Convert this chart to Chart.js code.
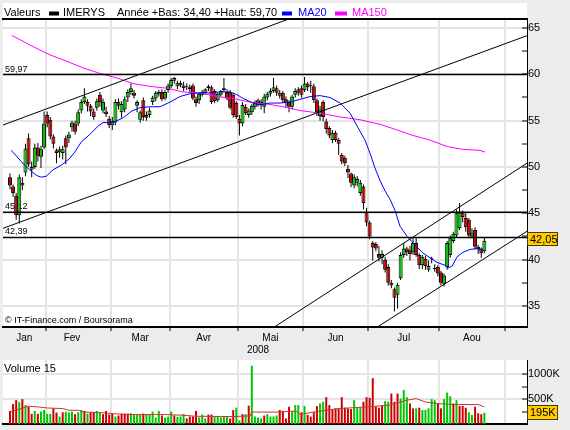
<!DOCTYPE html>
<html lang="fr">
<head>
<meta charset="utf-8">
<title>IMERYS</title>
<script src="https://cdn.jsdelivr.net/npm/chart.js@4.4.1/dist/chart.umd.min.js"></script>
<style>
  html, body { margin: 0; padding: 0; background: #ececec; }
  #cadre { position: relative; width: 570px; height: 430px; overflow: hidden; }
  canvas { position: absolute; left: 0; }
  #graphe_prix { top: 0; }
  #graphe_volume { top: 357px; }
</style>
</head>
<body>
<div id="cadre">
  <canvas id="graphe_prix" width="570" height="357"></canvas>
  <canvas id="graphe_volume" width="570" height="73"></canvas>
</div>
<script>
// textes
const valeur = 'IMERYS';
const resumeAnnee = 'Année +Bas: 34,40 +Haut: 59,70';
const credit = '© IT-Finance.com / Boursorama';
const titreVolume = 'Volume 15';
const etiquetteVolume = '195K';

// axe du temps : index de seance (0 = 16 janvier 2008)
const moisNoms = ['Jan', 'Fev', 'Mar', 'Avr', 'Mai', 'Jun', 'Jul', 'Aou'];
const moisPos = [4.6, 20, 42, 62.5, 84, 105, 127, 149];
const moisDebut = [11.5, 32.5, 51.5, 73.5, 94.5, 115.5, 138.5, 159.5];
const annee = ['2008'];
const anneePos = [80];

const ticksPrix = [35, 37.5, 40, 42.5, 45, 47.5, 50, 52.5, 55, 57.5, 60, 62.5, 65];
const ticksVol = [250, 500, 750, 1000];

// cours journaliers
const ouv = [48.9, 47.9, 46.9, 44.8, 48.3, 49.4, 53.1, 49.7, 50.0, 52.1, 51.1, 52.1,
  55.6, 55.1, 53.3, 51.8, 51.6, 51.5, 53.1, 53.1, 54.3, 54.7, 54.7, 56.1, 57.0, 57.0, 56.6, 56.0, 56.4, 57.8, 56.1, 56.0, 55.2,
  54.5, 54.8, 57.0, 55.9, 56.2, 57.5, 58.1, 58.0, 56.6, 55.1, 57.2, 55.6, 55.6, 57.0, 57.4, 57.9, 58.1, 57.4, 58.3,
  58.7, 59.3, 58.7, 59.1, 58.8, 58.7, 58.6, 58.8, 57.3, 57.2, 57.8, 58.0, 58.5, 58.6, 58.2, 57.2, 57.8, 58.3, 58.1, 58.1, 57.8, 56.9,
  55.2, 54.7, 56.5, 55.6, 55.9, 56.5, 56.9, 57.0, 56.5, 57.5, 57.9, 58.2, 58.5, 57.7, 58.0, 57.3, 57.0, 56.5, 57.8, 58.4, 58.5,
  58.3, 59.0, 58.8, 58.7, 57.2, 55.5, 57.0, 54.9, 54.2, 52.9, 53.7, 52.9, 51.3, 51.0, 49.8, 49.3, 48.0, 48.3, 47.2, 47.9, 45.0,
  44.0, 41.8, 41.7, 40.6, 40.2, 40.0, 39.2, 37.5, 36.8, 36.2, 38.0, 40.5, 41.2, 41.0, 40.8, 41.8, 40.5, 39.4, 40.1, 38.9, 40.1, 39.05, 39.2,
  38.6, 37.4, 39.2, 40.5, 42.0, 42.6, 43.4, 45.1, 44.5, 44.3, 42.5, 43.2, 41.4, 41.2, 40.9];
const haut = [49.3, 48.1, 47.2, 49.2, 48.9, 52.5, 53.6, 50.6, 52.5, 52.6, 52.3, 56.0,
  56.0, 55.4, 53.5, 52.0, 52.2, 52.3, 53.4, 53.8, 55.0, 55.0, 56.2, 57.3, 58.5, 57.3, 56.8, 56.3, 57.4, 58.1, 57.4, 56.5, 55.5,
  55.4, 57.3, 57.4, 57.1, 57.6, 58.4, 59.0, 58.3, 57.2, 56.1, 57.5, 56.0, 56.4, 57.7, 58.2, 58.3, 58.4, 58.3, 59.0,
  59.6, 59.7, 59.3, 59.3, 59.2, 59.0, 58.9, 59.0, 57.6, 58.0, 58.3, 58.5, 58.9, 58.8, 58.4, 58.0, 58.3, 59.6, 58.4, 58.3, 58.0, 57.1,
  55.6, 57.0, 56.8, 56.3, 56.8, 57.2, 57.4, 57.3, 57.9, 58.1, 58.5, 59.6, 58.8, 58.3, 58.2, 57.6, 57.2, 57.8, 58.5, 58.6, 58.8,
  59.7, 59.2, 59.3, 59.0, 57.4, 56.6, 57.2, 55.2, 54.4, 54.0, 53.9, 53.1, 51.5, 51.2, 50.2, 49.4, 49.2, 49.0, 48.6, 48.1, 45.6,
  44.2, 42.0, 41.9, 41.5, 41.0, 40.3, 39.5, 37.8, 37.0, 37.5, 40.8, 41.8, 41.4, 41.5, 42.3, 42.4, 40.7, 40.5, 40.4, 39.9, 40.3, 39.5, 39.4,
  38.8, 38.5, 42.0, 42.6, 43.0, 45.4, 46.1, 45.3, 45.0, 44.5, 43.4, 43.5, 41.6, 41.3, 42.4];
const bas = [47.6, 46.8, 44.3, 43.9, 47.5, 49.0, 50.0, 48.9, 49.8, 50.6, 49.9, 51.9,
  54.3, 53.0, 52.0, 50.4, 51.0, 50.8, 50.3, 52.6, 53.8, 53.5, 54.4, 55.8, 56.8, 56.0, 55.5, 55.1, 56.1, 56.5, 55.8, 55.4, 54.2,
  54.0, 54.5, 56.2, 55.3, 55.9, 57.0, 57.8, 57.4, 55.9, 54.8, 55.0, 55.0, 55.3, 56.7, 57.1, 57.6, 57.1, 57.2, 58.0,
  58.5, 59.0, 58.4, 58.6, 58.2, 58.3, 58.0, 57.2, 56.5, 56.8, 57.6, 57.8, 58.2, 56.8, 56.9, 57.0, 57.6, 58.1, 57.2, 56.2, 55.3, 55.2,
  53.4, 54.4, 55.6, 55.3, 55.6, 56.2, 56.5, 56.2, 55.8, 57.2, 57.6, 58.0, 57.7, 57.4, 56.9, 56.4, 55.9, 56.2, 57.5, 57.7, 57.5,
  58.1, 58.2, 58.0, 56.9, 55.5, 55.0, 54.9, 53.6, 53.1, 52.6, 52.7, 51.3, 50.3, 50.1, 48.8, 47.8, 47.7, 47.9, 46.9, 45.4, 43.6,
  42.2, 39.9, 40.9, 39.8, 39.5, 38.6, 37.2, 36.9, 34.4, 34.7, 37.8, 40.2, 40.4, 39.9, 40.5, 40.3, 39.0, 39.0, 38.9, 38.7, 39.6, 38.7, 38.2,
  37.2, 37.1, 38.9, 40.2, 41.8, 42.4, 43.2, 44.0, 43.0, 42.3, 42.3, 41.1, 40.6, 40.2, 40.7];
const clot = [48.0, 47.2, 44.8, 48.9, 48.0, 52.0, 50.3, 50.0, 52.1, 51.2, 51.9, 54.7,
  54.7, 53.3, 52.5, 51.5, 51.9, 51.9, 52.1, 53.5, 54.8, 53.8, 55.9, 57.0, 57.6, 56.6, 56.0, 55.4, 57.1, 57.0, 57.0, 55.7, 54.5,
  55.0, 57.0, 56.6, 56.8, 57.3, 58.1, 58.5, 57.7, 57.0, 55.9, 55.4, 55.3, 56.1, 57.5, 58.0, 58.1, 57.3, 58.1, 58.8,
  59.4, 59.6, 59.1, 58.8, 58.5, 58.6, 58.4, 57.4, 56.9, 57.9, 58.1, 58.4, 58.7, 57.0, 57.1, 57.9, 58.2, 58.5, 57.4, 56.4, 55.6, 55.4,
  54.7, 56.7, 55.8, 56.1, 56.6, 57.0, 57.2, 56.7, 57.6, 57.9, 58.2, 58.6, 58.0, 58.0, 57.2, 56.9, 56.5, 57.6, 58.2, 58.0, 57.8,
  59.0, 58.6, 58.7, 57.2, 55.9, 56.2, 55.4, 54.1, 53.4, 53.7, 52.9, 52.5, 50.6, 50.4, 49.4, 48.3, 48.9, 48.7, 48.3, 46.1, 44.0,
  42.5, 41.3, 41.2, 40.2, 40.6, 38.9, 37.5, 37.2, 35.9, 37.3, 40.5, 41.2, 40.8, 40.6, 41.8, 40.5, 39.4, 40.3, 39.3, 39.3, 40.05, 39.0, 38.5,
  37.5, 38.3, 41.8, 42.3, 42.8, 45.0, 45.1, 44.6, 43.5, 42.6, 42.9, 41.4, 41.1, 40.7, 42.05];

// volumes en milliers de titres, 1 = barre verte
const volume = [263, 402, 481, 442, 501, 382, 349, 204, 263, 204, 250, 283, 204, 204, 316, 230, 151, 236, 250, 236,
  250, 198, 236, 283, 263, 210, 236, 236, 263, 236, 198, 263, 191, 210, 151, 171, 210, 210, 210, 217,
  191, 191, 191, 210, 191, 191, 250, 131, 263, 171, 131, 151, 250, 171, 145, 151, 204, 112, 151, 151,
  263, 131, 191, 112, 191, 191, 151, 151, 131, 151, 151, 112, 283, 329, 72, 198, 198, 369, 1175, 151,
  131, 112, 171, 198, 151, 151, 171, 283, 263, 112, 349,
  250, 382, 382, 237, 362, 184, 151, 237, 362, 415, 448, 541, 382, 303, 316, 316, 541, 329, 316, 303,
  481, 329, 329, 448, 541, 528, 923, 349, 329, 369, 461, 448, 614, 448, 614, 514, 686, 541, 415, 316,
  316, 329, 283, 283, 316, 501, 481, 415, 316, 501, 633, 560, 415, 481, 362, 362, 329, 237, 184, 349,
  217, 198, 228];
const volHausse = [0, 0, 0, 1, 0, 1, 0, 0, 1, 0, 1, 1, 1, 1, 0, 0, 1, 0, 1, 1, 1, 0, 1, 1, 0, 1, 0, 0, 1, 1,
  0, 0, 0, 0, 1, 0, 0, 0, 0, 1, 1, 1, 1, 0, 1, 1, 1, 1, 1, 0, 1, 1, 1, 0, 1, 1, 1, 0, 0, 0,
  0, 1, 1, 1, 0, 0, 1, 1, 1, 1, 1, 0, 0, 1, 1, 0, 1, 0, 1, 1, 1, 1, 0, 1, 1, 1, 1, 0, 0, 0, 0,
  1, 1, 1, 0, 1, 0, 0, 0, 0, 1, 1, 0, 0, 0, 0, 0, 0, 0, 0, 0, 1, 1, 1, 0, 0, 0, 0, 0, 0, 0,
  1, 1, 0, 0, 0, 1, 1, 1, 0, 0, 1, 0, 1, 1, 1, 1, 1, 0, 0, 1, 1, 1, 0, 1, 0, 0, 0, 1, 1, 0, 0, 0, 1];

// moyennes mobiles
const ma20Pos = [0.4, 4.7, 6.3, 8.5, 10.1, 11.7, 13.9, 16.6, 19.2, 20.9, 23, 25.7, 28.4, 30, 33.2, 36.5, 39.1, 41.9, 45.2, 48.4,
  51.6, 54.8, 58, 61.3, 64.5, 67.7, 71, 73.2, 75.2, 78.4, 80.6, 83.9, 87.1, 90.3, 93.5, 96.8, 100, 103.2, 106.5, 109.7,
  112.3, 114.5, 116.1, 117.7, 119.4, 121, 122.6, 124.2, 125.8, 128.1, 130, 133.2, 135.5, 137.7, 140.3, 141.3, 142.6, 144.2, 146.1, 148.4,
  150.6, 152.6];
const ma20Val = [51.8, 50.2, 49.7, 49.1, 48.9, 49.0, 49.7, 50.2, 50.9, 51.6, 52.7, 53.5, 54.4, 54.8, 54.8, 55.3, 56.0, 56.4, 56.5, 56.5,
  57.0, 57.6, 57.9, 58.0, 58.0, 58.1, 58.1, 57.8, 57.4, 56.9, 56.7, 56.9, 56.9, 57.0, 57.3, 57.6, 57.7, 57.5, 56.9, 55.8,
  54.2, 52.9, 51.5, 49.9, 48.5, 47.4, 46.5, 45.3, 43.6, 42.5, 41.8, 40.7, 40.2, 39.7, 39.4, 39.1, 39.3, 40.3, 40.8, 41.1,
  41.2, 41.0];
const ma150Pos = [0.6, 7.4, 12.9, 18.4, 23.5, 29, 34.5, 39.7, 45.2, 50.6, 55.8, 61.3, 66.8, 71.9, 77.4, 82.9, 88.1, 93.5, 100, 106.5,
  112.9, 119.4, 124.8, 130, 135.5, 141, 146.1, 151.6, 153.2];
const ma150Val = [64.2, 63.0, 62.1, 61.4, 60.7, 60.1, 59.6, 59.0, 58.7, 58.5, 58.1, 58.0, 57.6, 57.4, 57.0, 56.8, 56.5, 56.1, 55.8, 55.4,
  55.1, 54.6, 54.0, 53.4, 52.9, 52.2, 51.9, 51.8, 51.6];
const mmVolPos = [0, 3, 6, 9, 12, 17, 19, 22, 24, 29, 33, 37, 50, 56, 60, 72, 76, 77.5, 78, 87, 90, 92.5, 93.5, 98, 106, 115, 122, 128, 131, 134, 138, 143, 151, 153];
const mmVolVal = [242, 300, 358, 345, 323, 311, 277, 277, 240, 230, 210, 190, 190, 176, 156, 150, 160, 165, 240, 240, 256, 256, 190, 242, 311, 344, 378, 479, 513, 444, 412, 392, 392, 344];

// niveaux horizontaux et droites de tendance (seance, cours)
const niveaux = [59.97, 45.12, 42.39];
const tendances = [
  [[-2.25, 54.53], [92, 66.23]],
  [[-2.25, 43.38], [166.75, 64.17]],
  [[85, 32.67], [166.75, 50.41]],
  [[118.5, 32.73], [166.75, 43.06]]
];

const xMin = -2.25, xMax = 166.75;
const yMin = 32.73, yMax = 65.97;
const vMax = 1290;

const vert = '#00c800';
const rouge = '#cc0000';
const grille = '#e4e4e4';
const police = '"Liberation Sans", Arial, sans-serif';

Chart.defaults.font.family = police;
Chart.defaults.color = '#000';

function points(pos, val) {
  return pos.map((p, k) => ({ x: p, y: val[k] }));
}

function virgule(v) {
  return v.toFixed(2).replace('.', ',');
}

function etiquetteJaune(ctx, x, y, texte, h) {
  ctx.font = '11px ' + police;
  ctx.fillStyle = '#ffcc00';
  ctx.fillRect(x, Math.round(y - h / 2), 31, h);
  ctx.strokeStyle = '#4a3a00';
  ctx.lineWidth = 1;
  ctx.strokeRect(x + 0.5, Math.round(y - h / 2) + 0.5, 30, h - 1);
  ctx.fillStyle = '#000';
  ctx.textAlign = 'left';
  ctx.textBaseline = 'middle';
  ctx.fillText(texte, x + 3, y + 0.5);
}

// l'axe de droite ne doit pas repousser la zone de trace
function axeDroit(s) {
  s.width = 43;
  s.paddingTop = 0;
  s.paddingBottom = 0;
}

const fondBlanc = {
  id: 'fondBlanc',
  beforeDraw(chart, args, opts) {
    const a = chart.chartArea;
    const dessus = opts.dessus !== undefined ? opts.dessus : a.top;
    chart.ctx.save();
    chart.ctx.fillStyle = '#ffffff';
    chart.ctx.fillRect(a.left, dessus, a.right - a.left, a.bottom - dessus);
    chart.ctx.restore();
  }
};

const habillagePrix = {
  id: 'habillagePrix',
  beforeDatasetsDraw(chart) {
    const { ctx, chartArea: a, scales: { y } } = chart;
    ctx.save();
    ctx.font = '9px ' + police;
    ctx.fillStyle = '#000';
    ctx.textAlign = 'left';
    ctx.textBaseline = 'bottom';
    niveaux.forEach(v => ctx.fillText(virgule(v), a.left + 2, y.getPixelForValue(v) - 1));
    ctx.textBaseline = 'middle';
    ctx.fillText(credit, a.left + 2, a.bottom - 6.5);
    ctx.restore();
  },
  afterDraw(chart) {
    const { ctx, chartArea: a, scales: { y } } = chart;
    ctx.save();
    ctx.font = '11px ' + police;
    ctx.textAlign = 'left';
    ctx.textBaseline = 'middle';
    const ly = 12.5;
    ctx.fillStyle = '#000';
    ctx.fillText('Valeurs', 4, ly);
    ctx.fillRect(49, 11.5, 10, 4);
    ctx.fillText(valeur, 63, ly);
    ctx.fillText(resumeAnnee, 117, ly);
    ctx.fillStyle = '#0000ff';
    ctx.fillRect(282, 11.5, 10, 4);
    ctx.fillText('MA20', 298, ly);
    ctx.fillStyle = '#ff00ff';
    ctx.fillRect(335, 11.5, 12, 4);
    ctx.fillText('MA150', 352, ly);
    const dernier = clot[clot.length - 1];
    etiquetteJaune(ctx, a.right, y.getPixelForValue(dernier) - 1.5, virgule(dernier), 14);
    ctx.restore();
  }
};

const habillageVolume = {
  id: 'habillageVolume',
  afterDraw(chart) {
    const { ctx, chartArea: a, scales: { y } } = chart;
    ctx.save();
    ctx.font = '11px ' + police;
    ctx.fillStyle = '#000';
    ctx.textAlign = 'left';
    ctx.textBaseline = 'middle';
    ctx.fillText(titreVolume, a.left + 1, a.top + 9);
    etiquetteJaune(ctx, a.right, y.getPixelForValue(volume[volume.length - 1]), etiquetteVolume, 15);
    ctx.restore();
  }
};

function axeTemps(extra) {
  return Object.assign({ type: 'linear', min: xMin, max: xMax, offset: false }, extra);
}

const jours = clot.map((c, i) => i);

new Chart(document.getElementById('graphe_prix'), {
  type: 'bar',
  data: {
    datasets: [
      ...niveaux.map(v => ({
        type: 'line', data: [{ x: xMin, y: v }, { x: xMax, y: v }],
        borderColor: '#000', borderWidth: 1.5, pointRadius: 0
      })),
      ...tendances.map(t => ({
        type: 'line', data: t.map(p => ({ x: p[0], y: p[1] })),
        borderColor: '#000', borderWidth: 1, pointRadius: 0
      })),
      { type: 'line', label: 'MA20', data: points(ma20Pos, ma20Val), borderColor: '#0000ff', borderWidth: 1, pointRadius: 0 },
      { type: 'line', label: 'MA150', data: points(ma150Pos, ma150Val), borderColor: '#ff00ff', borderWidth: 1, pointRadius: 0 },
      {
        type: 'bar', label: valeur,
        data: jours.map(i => ({ x: i, y: [ouv[i], clot[i]] })),
        backgroundColor: c => clot[c.dataIndex] >= ouv[c.dataIndex] ? vert : rouge,
        borderColor: '#000', borderWidth: 1, borderSkipped: false,
        barThickness: 4, grouped: false, minBarLength: 1, inflateAmount: 0
      },
      {
        type: 'bar',
        data: jours.map(i => ({ x: i, y: [bas[i], haut[i]] })),
        backgroundColor: '#000', barThickness: 1, grouped: false, inflateAmount: 0
      }
    ]
  },
  options: {
    responsive: false,
    animation: false,
    events: [],
    layout: { padding: { left: 3, top: 19, right: 0, bottom: 0 } },
    plugins: { legend: { display: false }, tooltip: { enabled: false }, fondBlanc: { dessus: 3 } },
    scales: {
      x: axeTemps({
        position: 'bottom', weight: 0,
        afterBuildTicks: s => { s.ticks = moisDebut.map(v => ({ value: v })); },
        grid: { color: grille, lineWidth: 2, tickLength: 4, tickColor: '#000', tickWidth: 1, offset: false },
        border: { color: '#000', width: 2 },
        ticks: { display: false },
        afterFit: s => { s.height = 5; }
      }),
      xMois: axeTemps({
        position: 'bottom', weight: 1,
        afterBuildTicks: s => { s.ticks = moisPos.map(v => ({ value: v })); },
        grid: { display: false, drawTicks: false },
        border: { display: false },
        ticks: { callback: (v, i) => moisNoms[i], autoSkip: false, maxRotation: 0, padding: 0, font: { size: 10 } },
        afterFit: s => { s.height = 12; }
      }),
      xAn: axeTemps({
        position: 'bottom', weight: 2,
        afterBuildTicks: s => { s.ticks = anneePos.map(v => ({ value: v })); },
        grid: { display: false, drawTicks: false },
        border: { display: false },
        ticks: { callback: (v, i) => annee[i], autoSkip: false, maxRotation: 0, padding: 0, font: { size: 10 } },
        afterFit: s => { s.height = 13; }
      }),
      xHaut: axeTemps({
        position: 'top',
        grid: { display: false, drawTicks: false },
        ticks: { display: false },
        border: { color: '#000', width: 2 },
        afterFit: s => { s.height = 0; }
      }),
      y: {
        type: 'linear', position: 'right', min: yMin, max: yMax, beginAtZero: false,
        afterBuildTicks: s => { s.ticks = ticksPrix.map(v => ({ value: v })); },
        grid: {
          color: c => (c.tick && c.tick.value % 5 === 0) ? grille : 'rgba(0,0,0,0)',
          lineWidth: 2, tickLength: -5, tickColor: '#000', tickWidth: 1
        },
        border: { color: '#000', width: 1 },
        ticks: { callback: v => v % 5 === 0 ? String(v) : '', font: { size: 11 }, padding: 6 },
        afterFit: axeDroit
      }
    }
  },
  plugins: [fondBlanc, habillagePrix]
});

new Chart(document.getElementById('graphe_volume'), {
  type: 'bar',
  data: {
    datasets: [
      { type: 'line', data: points(mmVolPos, mmVolVal), borderColor: '#cc3333', borderWidth: 1, pointRadius: 0 },
      {
        type: 'bar', label: titreVolume,
        data: volume.map((v, i) => ({ x: i, y: v })),
        backgroundColor: c => volHausse[c.dataIndex] ? vert : rouge,
        barThickness: 2, inflateAmount: 0
      }
    ]
  },
  options: {
    responsive: false,
    animation: false,
    events: [],
    layout: { padding: { left: 3, top: 3, right: 0, bottom: 0 } },
    plugins: { legend: { display: false }, tooltip: { enabled: false } },
    scales: {
      x: axeTemps({
        position: 'bottom',
        afterBuildTicks: s => { s.ticks = moisDebut.map(v => ({ value: v })); },
        grid: { color: grille, lineWidth: 2, drawTicks: false, offset: false },
        border: { color: '#000', width: 2 },
        ticks: { display: false },
        afterFit: s => { s.height = 6; }
      }),
      y: {
        type: 'linear', position: 'right', min: 0, max: vMax,
        afterBuildTicks: s => { s.ticks = ticksVol.map(v => ({ value: v })); },
        grid: {
          color: c => (c.tick && c.tick.value % 500 === 0) ? grille : 'rgba(0,0,0,0)',
          lineWidth: 2, tickLength: -5, tickColor: '#000', tickWidth: 1
        },
        border: { color: '#000', width: 1 },
        ticks: { callback: v => v % 500 === 0 ? v + 'K' : '', font: { size: 11 }, padding: 6 },
        afterFit: axeDroit
      }
    }
  },
  plugins: [fondBlanc, habillageVolume]
});
</script>
</body>
</html>
